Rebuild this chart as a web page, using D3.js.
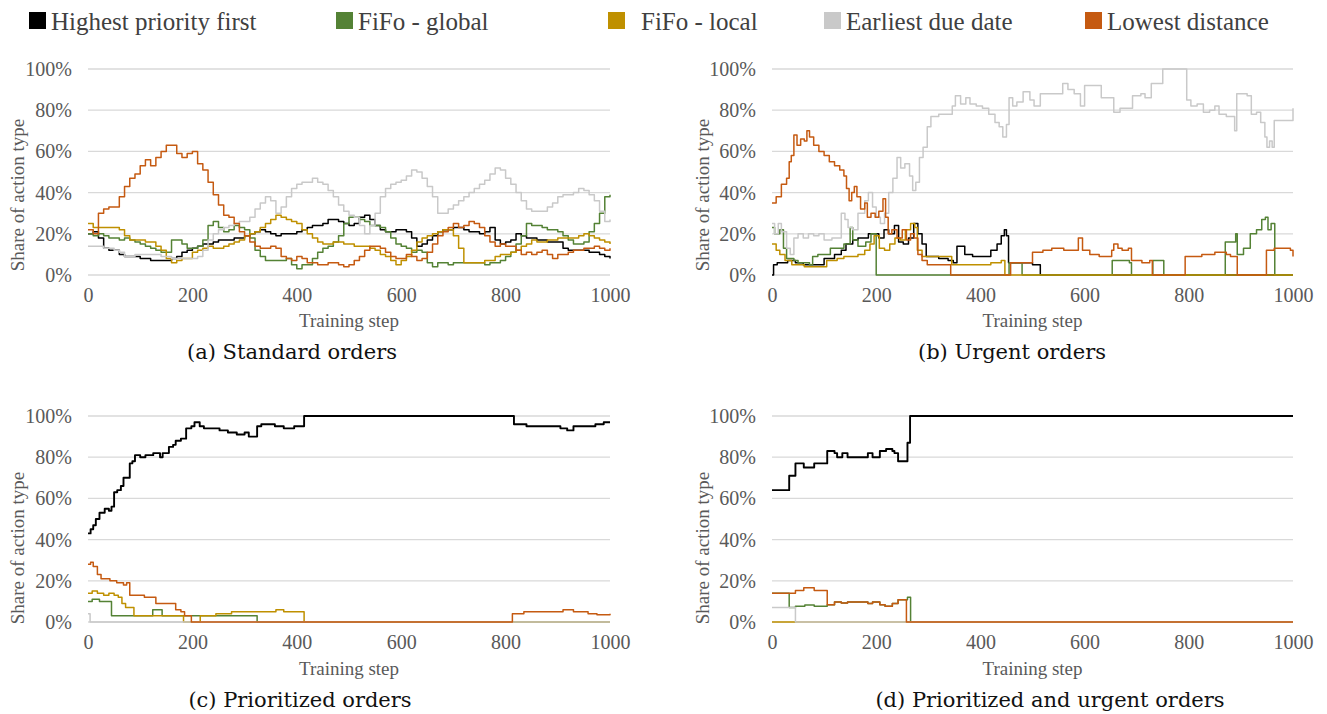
<!DOCTYPE html>
<html><head><meta charset="utf-8">
<script src="https://cdn.jsdelivr.net/npm/d3@7"></script>
<style>body{margin:0;background:#fff}svg{display:block}</style>
</head><body>
<svg id="c" width="1327" height="714"></svg>
<script>
// ---------- legend / series names ----------
const seriesNames = ["Highest priority first", "FiFo - global", "FiFo - local", "Earliest due date", "Lowest distance"];
const seriesColors = ["#000000", "#548235", "#BF9000", "#C9C9C9", "#C55A11"];
const yTicks = [0, 20, 40, 60, 80, 100];
const xTicks = [0, 200, 400, 600, 800, 1000];
const panelTitles = ["(a) Standard orders", "(b) Urgent orders", "(c) Prioritized orders", "(d) Prioritized and urgent orders"];

// ---------- (a) Standard orders: values sampled every 10 training steps ----------
const aStep = 10;
const aHighest = [20,21,18,13,12,12,10,9,9,9,8,8,7,7,7,7,8,9,11,12,13,14,15,15,16,17,17,17,18,18,19,20,21,22,21,20,19,20,20,20,21,22,23,24,24,25,27,27,26,25,24,25,28,29,27,24,22,21,21,22,22,21,18,14,15,17,19,21,22,22,23,23,22,21,21,20,21,23,17,15,16,17,20,19,18,18,17,17,16,16,16,13,12,12,12,12,11,11,10,9,8];
const aFifoGlobal = [20,19,20,19,18,18,17,18,17,16,15,14,13,12,11,11,17,17,15,13,13,14,17,24,26,23,21,22,24,23,22,18,12,9,7,7,7,7,8,5,3,5,5,8,11,13,14,16,19,25,28,28,27,26,24,24,23,21,18,15,14,13,11,12,11,6,4,6,6,5,6,6,6,6,6,6,5,6,6,7,9,11,15,19,25,24,24,23,22,22,21,19,17,15,15,16,21,25,30,38,39];
const aFifoLocal = [25,23,23,23,23,23,22,19,17,17,17,16,16,14,12,8,6,7,8,8,11,12,13,14,13,13,14,15,16,17,19,20,21,23,25,27,29,28,27,26,25,22,20,18,16,15,15,16,16,15,15,14,14,14,13,12,10,9,7,5,7,9,12,16,18,19,20,21,22,22,19,13,6,6,6,6,7,7,9,10,10,11,12,14,15,17,16,16,17,17,18,18,18,18,19,20,19,18,17,16,15];
const aEarliest = [14,14,14,13,13,12,11,9,9,10,10,10,10,10,9,9,8,8,8,8,8,9,12,17,20,22,23,24,25,26,26,28,32,35,38,36,30,33,38,42,44,45,45,47,45,44,41,38,34,31,29,28,24,20,24,30,38,42,44,45,46,48,51,50,47,43,38,30,30,32,34,36,38,40,42,44,46,49,52,51,47,44,40,36,32,31,31,31,33,35,38,39,39,40,42,41,39,36,31,26,27];
const aLowest = [22,20,30,32,33,33,38,43,47,49,53,56,53,57,60,63,63,59,57,59,60,54,51,45,39,34,29,28,25,21,19,16,14,13,13,14,13,9,8,7,9,8,6,6,5,5,6,6,5,4,5,7,9,12,14,14,13,11,9,8,8,10,9,7,8,11,15,19,21,23,25,23,24,26,25,23,19,16,14,15,14,14,12,10,11,10,11,12,10,8,10,10,11,12,12,13,13,14,13,12,13];

// ---------- (b) Urgent orders: [training step, share %] change points ----------
const bHighest = [[0,0],[3,5],[10,6],[30,7],[45,6],[60,5],[85,5],[100,8],[120,10],[133,12],[142,15],[155,17],[165,18],[185,20],[205,18],[215,22],[224,20],[235,24],[243,16],[252,15],[262,18],[272,25],[280,20],[288,15],[296,9],[320,8],[338,7],[348,6],[355,14],[370,10],[385,9],[405,9],[420,12],[432,15],[440,19],[446,22],[450,19],[454,6],[470,6],[500,5],[515,0],[1000,0]];
const bFifoGlobal = [[0,23],[5,20],[15,22],[22,13],[28,8],[42,7],[50,6],[72,5],[78,9],[88,10],[112,13],[138,15],[150,23],[155,17],[165,14],[180,16],[190,20],[200,0],[455,6],[480,0],[653,7],[686,6],[690,0],[731,7],[752,0],[870,16],[890,20],[893,10],[905,13],[918,20],[930,22],[940,27],[947,28],[952,22],[958,25],[965,0],[1000,0]];
const bFifoLocal = [[0,15],[8,12],[15,10],[25,7],[38,5],[62,4],[105,7],[125,8],[138,9],[165,10],[178,12],[188,15],[196,19],[206,13],[216,12],[226,15],[236,18],[246,17],[256,22],[266,25],[274,23],[279,12],[288,9],[335,9],[345,5],[400,5],[420,6],[440,7],[447,0],[1000,0]];
const bEarliest = [[0,25],[5,20],[12,25],[18,21],[28,13],[35,10],[42,18],[50,20],[60,18],[70,20],[80,19],[90,20],[100,17],[115,18],[128,18],[133,30],[140,27],[146,23],[155,22],[165,30],[178,36],[185,40],[193,33],[200,28],[208,25],[216,30],[224,40],[232,47],[240,57],[247,52],[255,54],[264,48],[270,41],[276,45],[283,57],[290,62],[298,72],[305,77],[320,78],[338,78],[346,82],[352,87],[362,83],[372,86],[380,83],[392,82],[404,81],[416,78],[428,74],[436,72],[443,67],[450,73],[455,86],[462,82],[470,84],[482,89],[495,85],[503,82],[515,88],[545,88],[558,93],[568,90],[580,88],[592,82],[600,92],[628,92],[632,86],[652,86],[656,79],[668,81],[684,81],[692,87],[708,88],[716,86],[728,93],[742,93],[750,100],[792,100],[796,85],[804,82],[816,83],[828,79],[840,80],[850,82],[858,78],[872,77],[888,70],[892,88],[912,87],[920,78],[930,79],[938,74],[946,67],[950,62],[955,65],[960,62],[964,75],[996,75],[1000,81]];
const bLowest = [[0,35],[8,38],[18,44],[28,47],[33,55],[37,58],[42,68],[48,63],[55,66],[62,65],[67,70],[72,67],[80,63],[90,60],[100,58],[110,55],[120,53],[130,51],[138,48],[143,42],[148,36],[153,40],[158,43],[163,38],[170,32],[178,35],[183,28],[190,30],[198,28],[205,31],[213,37],[218,28],[223,20],[230,22],[240,18],[250,22],[258,17],[266,20],[273,18],[280,10],[288,7],[298,5],[343,0],[458,6],[500,11],[520,12],[537,13],[560,12],[588,18],[596,12],[610,10],[628,9],[652,12],[656,15],[664,13],[672,12],[684,13],[690,7],[710,6],[725,7],[730,0],[793,9],[825,10],[850,11],[872,10],[880,9],[893,0],[949,12],[964,13],[995,12],[1000,9]];

// ---------- (c) Prioritized orders ----------
const cHighest = [[0,43],[5,45],[10,47],[15,50],[22,53],[32,55],[40,54],[45,56],[50,63],[56,64],[63,66],[68,70],[76,70],[80,77],[85,78],[90,81],[100,80],[110,81],[125,82],[138,80],[143,82],[155,85],[163,86],[168,88],[178,89],[188,94],[198,95],[204,97],[214,95],[222,94],[240,94],[252,93],[268,92],[285,91],[300,92],[308,90],[320,90],[324,95],[332,96],[358,95],[375,94],[395,95],[414,100],[815,100],[816,96],[840,95],[880,95],[905,94],[918,93],[930,95],[955,95],[972,96],[988,97],[1000,97]];
const cFifoGlobal = [[0,10],[8,11],[22,10],[45,3],[124,6],[142,3],[324,0],[1000,0]];
const cFifoLocal = [[0,14],[8,15],[18,14],[30,13],[40,14],[50,13],[58,12],[65,9],[72,7],[88,3],[183,0],[215,3],[245,4],[275,5],[350,5],[360,6],[375,5],[410,5],[414,0],[1000,0]];
const cEarliest = [[0,4],[4,0],[1000,0]];
const cLowest = [[0,28],[5,29],[10,27],[18,23],[25,21],[42,20],[55,19],[68,18],[74,19],[80,13],[95,13],[108,12],[130,9],[160,9],[168,6],[178,5],[185,3],[198,0],[813,4],[835,5],[900,5],[910,6],[930,5],[958,4],[975,3.5],[1000,4]];

// ---------- (d) Prioritized and urgent orders ----------
const dHighest = [[0,64],[33,71],[45,77],[61,75],[81,77],[106,83],[120,82],[125,80],[135,82],[145,80],[184,82],[193,80],[207,83],[219,84],[231,83],[235,82],[242,78],[260,87],[265,100],[1000,100]];
const dFifoGlobal = [[0,14],[33,7],[45,7.6],[63,8.2],[81,7.6],[106,8.4],[120,9.7],[133,9.2],[145,9.7],[184,9],[193,9.7],[207,8.4],[217,7.7],[231,9],[242,10.8],[260,12],[266,0],[1000,0]];
const dFifoLocal = [[0,0],[1000,0]];
const dEarliest = [[0,7],[45,0],[1000,0]];
const dLowest = [[0,14],[45,15.3],[61,16.6],[81,15.3],[106,8.4],[120,9.7],[133,9.2],[145,9.7],[184,9],[193,9.7],[207,8.4],[217,7.7],[231,9],[242,10.8],[258,0],[1000,0]];

// ---------- build ----------
const toPairs = arr => arr.map((v, i) => [i * aStep, v]);
const panels = [
  {x0: 88, x1: 610, yTop: 69, yBot: 275, ylabX: 17, ylabY: 195, xlabY: 320, titleX: 292, titleY: 352,
   series: [toPairs(aHighest), toPairs(aFifoGlobal), toPairs(aFifoLocal), toPairs(aEarliest), toPairs(aLowest)]},
  {x0: 772, x1: 1293, yTop: 69, yBot: 275, ylabX: 702, ylabY: 195, xlabY: 320, titleX: 1012, titleY: 352,
   series: [bHighest, bFifoGlobal, bFifoLocal, bEarliest, bLowest]},
  {x0: 88, x1: 610, yTop: 416, yBot: 622, ylabX: 17, ylabY: 548, xlabY: 668, titleX: 300, titleY: 700,
   series: [cHighest, cFifoGlobal, cFifoLocal, cEarliest, cLowest]},
  {x0: 772, x1: 1293, yTop: 416, yBot: 622, ylabX: 702, ylabY: 548, xlabY: 668, titleX: 1050, titleY: 700,
   series: [dHighest, dFifoGlobal, dFifoLocal, dEarliest, dLowest]}
];

const svg = d3.select("#c");
const serif = "Liberation Serif";

panels.forEach((p, pi) => {
  const x = d3.scaleLinear().domain([0, 1000]).range([p.x0, p.x1]);
  const y = d3.scaleLinear().domain([0, 100]).range([p.yBot, p.yTop]);
  const g = svg.append("g");

  // gridlines
  g.selectAll("line.grid").data(yTicks).join("line")
    .attr("x1", p.x0).attr("x2", p.x1)
    .attr("y1", d => y(d)).attr("y2", d => y(d))
    .attr("stroke", "#D9D9D9").attr("stroke-width", 1.3);

  // y axis
  const ya = g.append("g").attr("transform", `translate(${p.x0},0)`)
    .call(d3.axisLeft(y).tickValues(yTicks).tickSize(0).tickPadding(16).tickFormat(d => d + "%"));
  ya.select(".domain").remove();
  ya.selectAll("text").style("font-family", serif).style("font-size", "20px").attr("fill", "#595959");

  // x axis
  const xa = g.append("g").attr("transform", `translate(0,${p.yBot})`)
    .call(d3.axisBottom(x).tickValues(xTicks).tickSize(0).tickPadding(13).tickFormat(d3.format("d")));
  xa.select(".domain").remove();
  xa.selectAll("text").style("font-family", serif).style("font-size", "20px").attr("fill", "#595959");

  // axis titles
  g.append("text").attr("transform", `translate(${p.ylabX},${p.ylabY}) rotate(-90)`)
    .attr("text-anchor", "middle").attr("dominant-baseline", "central")
    .style("font-family", serif).style("font-size", "19px").attr("fill", "#595959")
    .text("Share of action type");
  g.append("text").attr("x", (p.x0 + p.x1) / 2).attr("y", p.xlabY)
    .attr("text-anchor", "middle").attr("dominant-baseline", "central")
    .style("font-family", serif).style("font-size", "19px").attr("fill", "#595959")
    .text("Training step");

  // lines
  const line = d3.line().x(d => x(d[0])).y(d => y(d[1])).curve(d3.curveStepAfter);
  p.series.forEach((s, si) => {
    g.append("path").attr("d", line(s)).attr("fill", "none")
      .attr("stroke", seriesColors[si]).attr("stroke-width", si === 0 && pi >= 2 ? 1.9 : 1.5)
      .attr("stroke-linejoin", "round");
  });

  // subfigure caption
  svg.append("text").attr("x", p.titleX).attr("y", p.titleY)
    .attr("text-anchor", "middle").attr("dominant-baseline", "central")
    .style("font-family", "DejaVu Serif").style("font-size", "21px").attr("fill", "#111")
    .text(panelTitles[pi]);
});

// legend
const legendX = [29, 336, 608, 824, 1085];
const lg = svg.append("g");
seriesNames.forEach((n, i) => {
  lg.append("rect").attr("x", legendX[i]).attr("y", 12).attr("width", 17).attr("height", 17)
    .attr("fill", seriesColors[i]);
  lg.append("text").attr("x", legendX[i] + (i === 2 ? 33 : 22)).attr("y", 21)
    .attr("dominant-baseline", "central")
    .style("font-family", serif).style("font-size", "25px").attr("fill", "#404040").text(n);
});
</script>
</body></html>
